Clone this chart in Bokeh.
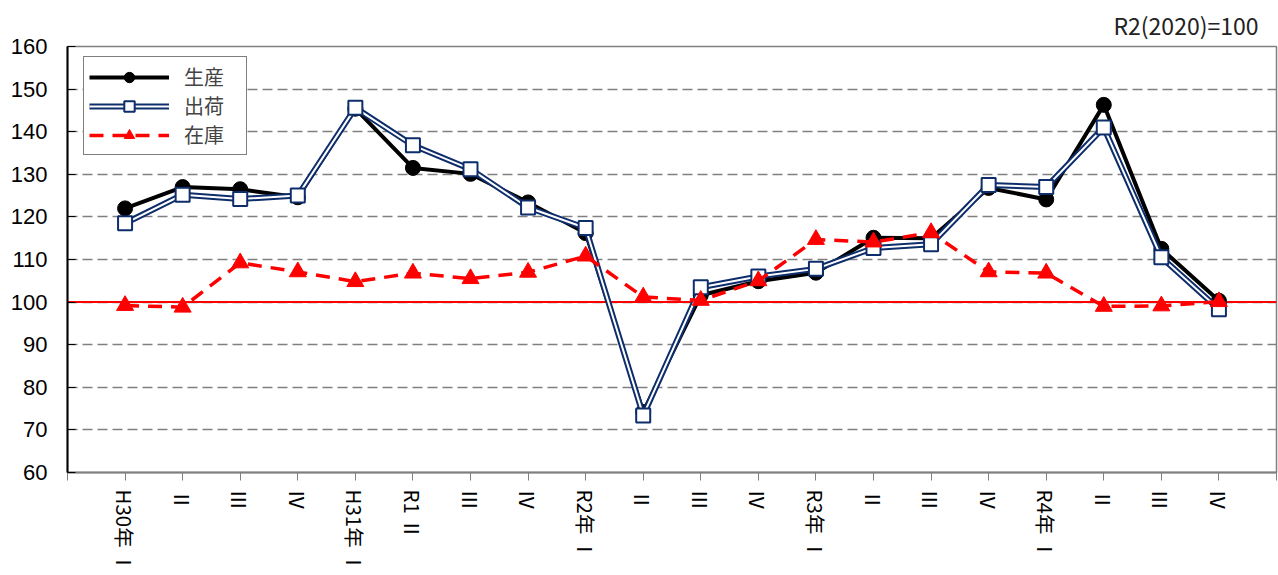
import math
from bokeh.plotting import figure
from bokeh.models import FixedTicker, Span, Legend, LegendItem, Range1d
from bokeh.embed import file_html
from bokeh.resources import INLINE

# ---- data ----
quarters = ["H30年 Ⅰ", "Ⅱ", "Ⅲ", "Ⅳ", "H31年 Ⅰ", "R1 Ⅱ", "Ⅲ", "Ⅳ",
            "R2年 Ⅰ", "Ⅱ", "Ⅲ", "Ⅳ", "R3年 Ⅰ", "Ⅱ", "Ⅲ", "Ⅳ",
            "R4年 Ⅰ", "Ⅱ", "Ⅲ", "Ⅳ"]
production = [122.0, 127.0, 126.5, 124.6, 145.4, 131.5, 130.1, 123.4, 116.2, 74.2,
              101.6, 104.9, 106.9, 115.1, 115.0, 126.8, 124.1, 146.3, 112.5, 100.3]
shipment = [118.5, 125.2, 124.2, 125.0, 145.6, 136.8, 131.2, 122.2, 117.4, 73.4,
            103.5, 106.0, 107.8, 112.7, 113.6, 127.5, 127.0, 141.0, 110.5, 98.3]
inventory = [99.2, 98.8, 109.2, 107.1, 104.8, 106.8, 105.5, 107.0, 110.8, 101.2,
             100.4, 105.0, 114.7, 114.1, 116.3, 107.1, 106.8, 99.0, 99.1, 100.1]
series_names = ["生産", "出荷", "在庫"]
y_ticks = list(range(60, 161, 10))
base_note = "R2(2020)=100"

x = list(range(1, len(quarters) + 1))

p = figure(width=1278, height=575, output_backend="svg", toolbar_location=None,
           x_range=Range1d(0, len(quarters) + 1), y_range=Range1d(60, 160),
           min_border_left=67, min_border_right=2, min_border_top=46, min_border_bottom=0)

p.background_fill_color = "white"
p.border_fill_color = "white"
p.outline_line_color = "#808080"
p.outline_line_width = 1.5

# title (base note)
p.title.text = base_note
p.title.align = "right"
p.title.text_font = "Noto Sans CJK JP"
p.title.text_font_size = "23px"
p.title.text_font_style = "normal"
p.title.text_color = "#222222"
p.title.offset = 18

# grid
p.xgrid.visible = False
p.ygrid.ticker = FixedTicker(ticks=y_ticks)
p.ygrid.grid_line_color = "#808080"
p.ygrid.grid_line_dash = "10 5"
p.ygrid.grid_line_width = 1.5

# y axis
p.yaxis.ticker = FixedTicker(ticks=y_ticks)
p.yaxis.axis_line_color = "black"
p.yaxis.axis_line_width = 2
p.yaxis.major_tick_in = 8
p.yaxis.major_tick_out = 0
p.yaxis.major_tick_line_color = "black"
p.yaxis.minor_tick_line_color = None
p.yaxis.major_label_standoff = 20
p.yaxis.major_label_text_font = "Liberation Sans"
p.yaxis.major_label_text_font_size = "22px"
p.yaxis.major_label_text_color = "black"

# x axis
p.xaxis.ticker = FixedTicker(ticks=list(range(0, len(quarters) + 2)))
overrides = {0: "", len(quarters) + 1: ""}
for i, q in enumerate(quarters):
    overrides[i + 1] = q
p.xaxis.major_label_overrides = overrides
p.xaxis.axis_line_color = "#808080"
p.xaxis.axis_line_width = 2
p.xaxis.major_tick_in = 0
p.xaxis.major_tick_out = 8
p.xaxis.major_tick_line_color = "#808080"
p.xaxis.minor_tick_line_color = None
p.xaxis.major_label_orientation = -math.pi / 2
p.xaxis.major_label_standoff = 9
p.xaxis.major_label_text_font = "Noto Sans CJK JP"
p.xaxis.major_label_text_font_size = "20.5px"
p.xaxis.major_label_text_color = "black"

# reference line at 100
p.add_layout(Span(location=100, dimension="width", line_color="red", line_width=2, level="underlay"))

# series
r1 = p.line(x, production, line_color="black", line_width=4)
s1 = p.scatter(x, production, marker="circle", size=15, fill_color="black", line_color="black")

navy = "#0d2d6b"
r2a = p.line(x, shipment, line_color=navy, line_width=6)
r2b = p.line(x, shipment, line_color="white", line_width=2)
s2 = p.scatter(x, shipment, marker="square", size=14, fill_color="white", line_color=navy, line_width=2)

r3 = p.line(x, inventory, line_color="red", line_width=3.5, line_dash="14 9")
s3 = p.scatter(x, inventory, marker="triangle", size=17, fill_color="red", line_color="red")

legend = Legend(items=[
    LegendItem(label=series_names[0], renderers=[r1, s1]),
    LegendItem(label=series_names[1], renderers=[r2a, r2b, s2]),
    LegendItem(label=series_names[2], renderers=[r3, s3]),
], location=(16, 317))
legend.padding = 5
legend.spacing = 0
legend.glyph_width = 80
legend.glyph_height = 26
legend.label_standoff = 15
legend.label_width = 57
legend.label_text_font = "Noto Sans CJK JP"
legend.label_text_font_size = "20px"
legend.border_line_color = "black"
legend.border_line_width = 1
legend.background_fill_color = "white"
legend.background_fill_alpha = 1.0
p.add_layout(legend)

open("out.html", "w").write(file_html(p, INLINE))
